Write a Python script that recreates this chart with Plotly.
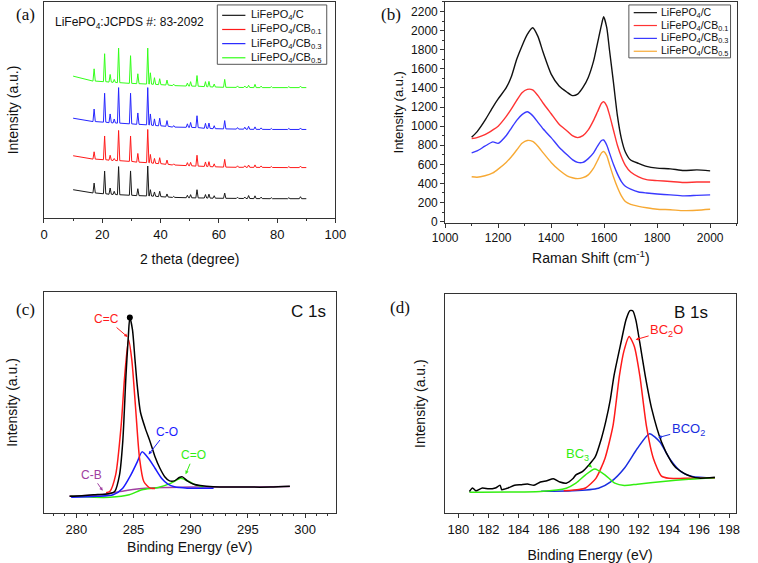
import plotly.graph_objects as go

# ---------------- (a) XRD ----------------
XRD_PEAKS = [17.2, 20.8, 22.7, 24.1, 25.6, 29.7, 32.2, 35.6, 36.5, 37.9, 39.7, 42.2, 44.5, 49.2,
             50.3, 52.5, 55.4, 56.6, 58.4, 62.0, 66.4, 68.9, 70.2, 72.4, 74.5, 78.0, 84.0, 88.0]
XRD_START_X = 10.0
XRD_END_X = 90.0

xrd_c_start, xrd_c_end = 28.6, 19.5
xrd_c_base = [25.3, 24.5, 24.0, 23.8, 23.5, 23.0, 22.6, 22.3, 22.2, 22.0, 21.6, 21.2, 20.8, 20.5,
              20.4, 20.3, 20.2, 20.1, 20.0, 19.9, 19.8, 19.7, 19.7, 19.6, 19.6, 19.5, 19.5, 19.5]
xrd_c_top = [35.3, 47.5, 30.3, 27.0, 52.0, 47.6, 29.6, 52.6, 28.6, 26.3, 27.0, 24.3, 21.8, 23.0,
             23.6, 28.6, 23.7, 24.1, 22.5, 25.2, 21.0, 21.2, 22.7, 22.4, 21.1, 20.5, 20.5, 21.5]

xrd_cb1_start, xrd_cb1_end = 63.0, 51.0
xrd_cb1_base = [59.6, 59.0, 58.5, 58.2, 58.0, 57.3, 56.5, 56.0, 55.8, 55.3, 55.0, 54.3, 53.6, 53.0,
                52.8, 52.5, 52.2, 52.0, 51.8, 51.5, 51.3, 51.3, 51.3, 51.2, 51.2, 51.1, 51.0, 51.0]
xrd_cb1_top = [67.0, 83.0, 63.5, 60.2, 88.6, 83.0, 65.3, 89.6, 64.3, 60.3, 61.0, 58.6, 54.8, 56.0,
               56.3, 63.5, 56.7, 57.0, 54.8, 59.3, 52.8, 52.8, 53.6, 53.7, 52.7, 52.1, 52.0, 52.5]

xrd_cb3_start, xrd_cb3_end = 101.0, 89.6
xrd_cb3_base = [97.6, 97.0, 96.5, 96.2, 96.0, 95.3, 94.8, 94.3, 94.0, 93.6, 93.3, 92.8, 92.0, 91.8,
                91.7, 91.5, 90.8, 90.6, 90.4, 90.2, 90.0, 89.9, 89.8, 89.7, 89.7, 89.6, 89.6, 89.6]
xrd_cb3_top = [110.3, 126.3, 105.3, 100.2, 132.0, 126.3, 106.3, 132.0, 105.3, 100.3, 101.0, 98.6, 93.5, 95.3,
               96.7, 103.5, 95.8, 96.1, 93.4, 98.6, 91.5, 91.9, 92.8, 92.2, 91.2, 90.6, 90.6, 91.1]

xrd_cb5_start, xrd_cb5_end = 143.6, 132.0
xrd_cb5_base = [138.6, 138.0, 137.6, 137.3, 137.0, 136.3, 136.0, 135.6, 135.5, 135.3, 135.0, 134.6, 134.0, 133.6,
                133.5, 133.4, 133.0, 132.8, 132.6, 132.3, 132.2, 132.1, 132.1, 132.0, 132.0, 132.0, 132.0, 132.0]
xrd_cb5_top = [151.0, 166.3, 145.3, 140.3, 172.0, 164.3, 146.0, 172.0, 147.0, 142.0, 141.0, 139.6, 135.5, 136.6,
               138.0, 144.2, 138.0, 138.3, 135.6, 140.3, 133.7, 133.6, 134.3, 135.3, 133.5, 133.0, 133.0, 133.5]

# ---------------- (b) Raman ----------------
raman_x = [1100, 1120, 1150, 1180, 1200, 1230, 1250, 1270, 1290, 1310, 1330, 1350, 1370, 1400, 1430,
           1460, 1480, 1500, 1520, 1540, 1560, 1575, 1590, 1598, 1610, 1620, 1635, 1650, 1665, 1680,
           1700, 1730, 1760, 1800, 1850, 1900, 1950, 2000]
raman_c = [885, 940, 1060, 1200, 1285, 1400, 1520, 1700, 1840, 1960, 2030, 1940, 1770, 1545, 1420,
           1355, 1320, 1335, 1405, 1510, 1680, 1870, 2060, 2145, 2030, 1800, 1460, 1110, 870, 730,
           645, 610, 578, 560, 553, 535, 542, 532]
raman_cb1 = [870, 880, 910, 960, 1000, 1100, 1180, 1270, 1350, 1385, 1380, 1320, 1240, 1130, 1020,
             950, 900, 880, 900, 960, 1060, 1150, 1240, 1255, 1210, 1120, 960, 800, 680, 590,
             520, 470, 440, 430, 420, 410, 415, 415]
raman_cb3 = [720, 740, 790, 835, 820, 900, 980, 1060, 1120, 1150, 1110, 1040, 970, 880, 780,
             700, 650, 620, 620, 660, 720, 790, 850, 855, 800, 720, 600, 500, 420, 370,
             340, 310, 300, 290, 280, 270, 275, 280]
raman_cb5 = [470, 465, 480, 510, 550, 620, 680, 750, 820, 850, 840, 790, 720, 620, 540,
             480, 460, 450, 460, 490, 560, 640, 720, 735, 690, 600, 470, 360, 270, 210,
             180, 160, 145, 130, 125, 115, 120, 130]

# ---------------- (c) C 1s ----------------
c1s_env_x = [279.41, 280.5, 281.5, 282.5, 283.0, 283.36, 283.78, 284.06, 284.34, 284.55, 284.68, 284.91,
             285.13, 285.33, 285.61, 286.04, 286.46, 286.88, 287.31, 287.73, 288.15, 288.58, 289.0,
             289.28, 289.7, 290.27, 290.83, 291.96, 294.2, 297.0, 298.67]
c1s_env_y = [7.6, 7.9, 8.3, 8.6, 9.0, 9.8, 17.3, 32.2, 62.0, 80.0, 88.4, 82.9,
             69.4, 57.5, 45.6, 38.2, 32.2, 25.5, 20.3, 16.5, 14.6, 14.6, 16.1,
             16.4, 14.6, 13.1, 12.5, 11.9, 11.8, 11.8, 12.2]
c1s_cc_x = [282.6, 282.93, 283.44, 283.92, 284.23, 284.57, 284.85, 285.19, 285.53, 285.9, 286.46, 286.88]
c1s_cc_y = [9.2, 9.8, 17.3, 39.6, 62.0, 78.4, 69.4, 47.1, 24.7, 14.3, 11.3, 11.2]
c1s_co_x = [279.55, 281.8, 283.22, 284.06, 284.77, 285.33, 285.75, 286.32, 286.88, 287.45, 288.01,
            288.58, 289.7, 292.0]
c1s_co_y = [7.2, 7.6, 8.3, 11.3, 17.3, 23.2, 27.7, 24.7, 20.3, 15.8, 13.1, 11.9, 11.3, 11.3]
c1s_c_o_x = [279.55, 281.52, 282.93, 284.63, 285.75, 287.16, 288.29, 289.14, 289.85, 290.41, 291.11]
c1s_c_o_y = [7.7, 7.2, 7.2, 8.3, 10.6, 11.6, 13.6, 15.8, 14.3, 12.8, 11.9]
c1s_bg_x = [279.41, 281.0, 282.5, 283.5, 284.5, 285.5, 286.5, 288.0, 290.0, 295.0, 298.67]
c1s_bg_y = [7.8, 8.0, 8.6, 9.5, 10.4, 11.0, 11.4, 11.6, 11.8, 11.8, 12.0]
c1s_peak_x = [284.68]
c1s_peak_y = [88.4]

# ---------------- (d) B 1s ----------------
b1s_env_x = [180.73, 180.94, 181.16, 181.59, 182.02, 182.45, 182.77, 182.88, 183.30, 183.73, 184.16,
             184.59, 185.02, 185.45, 185.88, 186.31, 186.74, 187.17, 187.60, 187.81, 188.24, 188.67,
             189.10, 189.5, 189.8, 190.1, 190.34, 190.8, 191.14, 191.4, 191.6, 191.8, 192.06, 192.42,
             192.85, 193.5, 194.14, 194.3, 194.5, 195.0, 195.5, 196.0, 197.05]
b1s_env_y = [9.9, 11.5, 10.2, 11.5, 11.1, 11.5, 12.7, 10.7, 11.5, 12.7, 13.0,
             13.3, 12.7, 14.2, 14.8, 15.7, 14.2, 13.7, 15.7, 17.5, 19.0, 22.0,
             25.8, 34.0, 42.0, 52.0, 62.7, 77.7, 88.3, 92.5, 92.3, 88.0, 77.7, 62.7,
             47.6, 32.5, 23.5, 22.0, 20.5, 18.2, 16.7, 16.0, 16.4]
b1s_bc2o_x = [187.0, 188.0, 188.45, 189.14, 189.74, 190.28, 190.7, 191.0, 191.35, 191.7, 192.06,
              192.49, 192.96, 193.5, 194.0, 195.0, 197.05]
b1s_bc2o_y = [10.2, 10.8, 11.5, 15.9, 25.0, 40.1, 62.7, 74.0, 80.7, 76.0, 62.7,
              40.1, 25.0, 16.9, 15.9, 15.9, 16.0]
b1s_bco2_x = [185.5, 187.6, 189.31, 190.17, 191.03, 191.89, 192.7, 193.39, 194.03, 194.79, 195.54, 197.05]
b1s_bco2_y = [10.0, 10.2, 11.4, 14.5, 20.5, 29.5, 36.3, 32.5, 25.0, 19.0, 16.7, 16.0]
b1s_bc3_x = [180.73, 185.45, 187.17, 187.81, 188.45, 189.06, 189.74, 190.39, 191.03, 191.89, 193.6,
             195.3, 197.05]
b1s_bc3_y = [9.6, 9.9, 11.4, 13.7, 17.5, 20.2, 17.5, 13.7, 12.65, 13.25, 14.5, 15.5, 16.2]

NAMES = ["LiFePO<sub>4</sub>/C", "LiFePO<sub>4</sub>/CB<sub>0.1</sub>",
         "LiFePO<sub>4</sub>/CB<sub>0.3</sub>", "LiFePO<sub>4</sub>/CB<sub>0.5</sub>"]
XRD_COLORS = ["#1a1a1a", "#ff1a1a", "#2626ff", "#33ff1a"]
RAMAN_COLORS = ["#111111", "#ff3333", "#3a3aff", "#f7a934"]

# ---------------- figure ----------------
W, H = 758, 563
FONT = "Arial, Liberation Sans, sans-serif"
AX = "#333333"

fig = go.Figure()

HW = 0.4  # half width of drawn diffraction peaks


def xrd_xy(start, base, top, end):
    xs, ys = [XRD_START_X], [start]
    for p, b, t in zip(XRD_PEAKS, base, top):
        xs += [p - HW, p, p + HW]
        ys += [b, t, b]
    xs.append(XRD_END_X)
    ys.append(end)
    return xs, ys


xrd_sets = [
    (xrd_c_start, xrd_c_base, xrd_c_top, xrd_c_end),
    (xrd_cb1_start, xrd_cb1_base, xrd_cb1_top, xrd_cb1_end),
    (xrd_cb3_start, xrd_cb3_base, xrd_cb3_top, xrd_cb3_end),
    (xrd_cb5_start, xrd_cb5_base, xrd_cb5_top, xrd_cb5_end),
]
for name, (s, b, t, e), col in zip(NAMES, xrd_sets, XRD_COLORS):
    xs, ys = xrd_xy(s, b, t, e)
    fig.add_trace(go.Scatter(x=xs, y=ys, mode="lines", name=name, showlegend=False,
                             line=dict(color=col, width=1), xaxis="x", yaxis="y"))

raman_sets = [raman_c, raman_cb1, raman_cb3, raman_cb5]
for name, ys, col in zip(NAMES, raman_sets, RAMAN_COLORS):
    fig.add_trace(go.Scatter(x=raman_x, y=ys, mode="lines", name=name, showlegend=False,
                             line=dict(color=col, width=1.4, shape="spline", smoothing=0.6),
                             xaxis="x2", yaxis="y2"))

c_sets = [
    (c1s_bg_x, c1s_bg_y, "#a040a0"),
    (c1s_c_o_x, c1s_c_o_y, "#33ee11"),
    (c1s_co_x, c1s_co_y, "#1a1aff"),
    (c1s_cc_x, c1s_cc_y, "#ff1a1a"),
    (c1s_env_x, c1s_env_y, "#000000"),
]
for xs, ys, col in c_sets:
    fig.add_trace(go.Scatter(x=xs, y=ys, mode="lines", showlegend=False,
                             line=dict(color=col, width=1.5, shape="spline", smoothing=0.7),
                             xaxis="x3", yaxis="y3"))
fig.add_trace(go.Scatter(x=c1s_peak_x, y=c1s_peak_y, mode="markers", showlegend=False,
                         marker=dict(color="black", size=6), xaxis="x3", yaxis="y3"))

d_sets = [
    (b1s_bco2_x, b1s_bco2_y, "#1a2ee0"),
    (b1s_bc2o_x, b1s_bc2o_y, "#ff1a1a"),
    (b1s_bc3_x, b1s_bc3_y, "#33ee11"),
    (b1s_env_x, b1s_env_y, "#000000"),
]
for xs, ys, col in d_sets:
    fig.add_trace(go.Scatter(x=xs, y=ys, mode="lines", showlegend=False,
                             line=dict(color=col, width=1.5, shape="spline", smoothing=0.6),
                             xaxis="x4", yaxis="y4"))


def xdom(l, r):
    return [l / W, r / W]


def ydom(b, t):
    return [1 - b / H, 1 - t / H]


common = dict(showline=True, linecolor=AX, linewidth=1, mirror=True, showgrid=False, zeroline=False,
              ticks="outside", tickcolor=AX, ticklen=4, tickwidth=1,
              tickfont=dict(family=FONT, size=13, color="#111"))
noticks = {k: v for k, v in common.items() if k != "ticks"}

fig.update_layout(
    width=W, height=H, margin=dict(l=0, r=0, t=0, b=0),
    paper_bgcolor="white", plot_bgcolor="white",
    font=dict(family=FONT, color="#111"),
    xaxis=dict(domain=xdom(32, 333), range=[0, 100], dtick=20, anchor="y",
               minor=dict(dtick=10, ticklen=2, ticks="outside", tickcolor=AX),
               title=dict(text="2 theta (degree)", font=dict(size=14), standoff=13), **common),
    yaxis=dict(domain=ydom(220.3, 2), range=[0, 218.7], anchor="x", showticklabels=False,
               title=dict(text="Intensity (a.u.)", font=dict(size=14), standoff=21), **noticks),
    xaxis2=dict(domain=xdom(446.3, 747.3), range=[1000, 2100], dtick=200, anchor="y2",
                minor=dict(dtick=100, ticklen=2, ticks="outside", tickcolor=AX),
                title=dict(text="Raman Shift (cm<sup>-1</sup>)", font=dict(size=14), standoff=9),
                **{**common, "tickfont": dict(family=FONT, size=12, color="#111")}),
    yaxis2=dict(domain=ydom(225, 2), range=[-10, 2300], dtick=200, anchor="x2",
                minor=dict(dtick=100, ticklen=2, ticks="outside", tickcolor=AX),
                title=dict(text="Intensity (a.u.)", font=dict(size=13), standoff=4),
                **{**common, "tickfont": dict(family=FONT, size=12, color="#111")}),
    xaxis3=dict(domain=xdom(31.7, 333.3), range=[277.15, 302.68], dtick=5, anchor="y3",
                minor=dict(dtick=1, ticklen=2, ticks="outside", tickcolor=AX),
                title=dict(text="Binding Energy (eV)", font=dict(size=14), standoff=6), **common),
    yaxis3=dict(domain=ydom(518.7, 295), range=[0, 100], anchor="x3", showticklabels=False,
                title=dict(text="Intensity (a.u.)", font=dict(size=14), standoff=21), **noticks),
    xaxis4=dict(domain=xdom(445.7, 746.3), range=[179.08, 198.43], dtick=2, anchor="y4",
                minor=dict(dtick=1, ticklen=2, ticks="outside", tickcolor=AX),
                title=dict(text="Binding Energy (eV)", font=dict(size=14), standoff=14), **common),
    yaxis4=dict(domain=ydom(518.7, 297.3), range=[0, 100], anchor="x4", showticklabels=False,
                title=dict(text="Intensity (a.u.)", font=dict(size=14), standoff=14), **noticks),
)

# ---- legend boxes (drawn as shapes + text) ----
LEG_A = dict(box=(211, 5, 324, 65), rows=[15.5, 29.8, 44.1, 58.4], line=(216, 240), text_x=244, size=11,
             colors=XRD_COLORS)
LEG_B = dict(box=(636, 5, 741, 58.5), rows=[12.8, 25.8, 38.8, 51.8], line=(641, 665), text_x=667, size=10.5,
             colors=RAMAN_COLORS)
for leg in (LEG_A, LEG_B):
    x0, y0, x1, y1 = leg["box"]
    fig.add_shape(type="rect", xref="paper", yref="paper", x0=x0 / W, x1=x1 / W, y0=1 - y0 / H, y1=1 - y1 / H,
                  line=dict(color="#555", width=1), fillcolor="white", layer="above")
    for name, ry, col in zip(NAMES, leg["rows"], leg["colors"]):
        fig.add_shape(type="line", xref="paper", yref="paper", x0=leg["line"][0] / W, x1=leg["line"][1] / W,
                      y0=1 - ry / H, y1=1 - ry / H, line=dict(color=col, width=1.2), layer="above")
        fig.add_annotation(xref="paper", yref="paper", x=leg["text_x"] / W, y=1 - ry / H, xanchor="left",
                           yanchor="middle", showarrow=False, text=name,
                           font=dict(family=FONT, size=leg["size"], color="#111"))

SERIF = "Liberation Serif, Times New Roman, serif"
annots = [
    dict(text="(a)", x=13 / W, y=1 - 15 / H),
    dict(text="(b)", x=390 / W, y=1 - 15 / H),
    dict(text="(c)", x=13 / W, y=1 - 313 / H),
    dict(text="(d)", x=400 / W, y=1 - 311 / H),
]
for a in annots:
    fig.add_annotation(xref="paper", yref="paper", showarrow=False, xanchor="center", yanchor="middle",
                       font=dict(family=SERIF, size=17, color="#111"), **a)

fig.add_annotation(xref="paper", yref="paper", x=41 / W, y=1 - 23 / H, xanchor="left", yanchor="middle",
                   showarrow=False, text="LiFePO<sub>4</sub>:JCPDS #: 83-2092",
                   font=dict(family=FONT, size=12, color="#111"))
fig.add_annotation(xref="paper", yref="paper", x=305 / W, y=1 - 315 / H, showarrow=False,
                   text="C 1s", font=dict(family=FONT, size=17, color="#111"))
fig.add_annotation(xref="paper", yref="paper", x=720 / W, y=1 - 316 / H, showarrow=False,
                   text="B 1s", font=dict(family=FONT, size=17, color="#111"))

peak_labels = [
    ("x3", "y3", 284.49, 79.6, -21, -18, "C=C", "#ff1a1a", 12),
    ("x3", "y3", 286.32, 26.5, 18, -23, "C-O", "#1a1aff", 12),
    ("x3", "y3", 289.56, 17.6, 8, -19, "C=O", "#33ee11", 12),
    ("x3", "y3", 282.31, 10.1, -11, -16, "C-B", "#a040a0", 12),
    ("x4", "y4", 191.78, 79.2, 31, -9, "BC<sub>2</sub>O", "#ff1a1a", 13),
    ("x4", "y4", 193.28, 34.5, 30, -8, "BCO<sub>2</sub>", "#1a2ee0", 13),
    ("x4", "y4", 188.88, 20.8, -15, -13, "BC<sub>3</sub>", "#33ee11", 13),
]
for xr, yr, x, y, ax, ay, txt, col, fs in peak_labels:
    fig.add_annotation(xref=xr, yref=yr, x=x, y=y, ax=ax, ay=ay, text=txt, showarrow=True,
                       arrowhead=2, arrowsize=0.7, arrowwidth=1, arrowcolor=col,
                       font=dict(family=FONT, size=fs, color=col))

fig.write_html("out.html")
